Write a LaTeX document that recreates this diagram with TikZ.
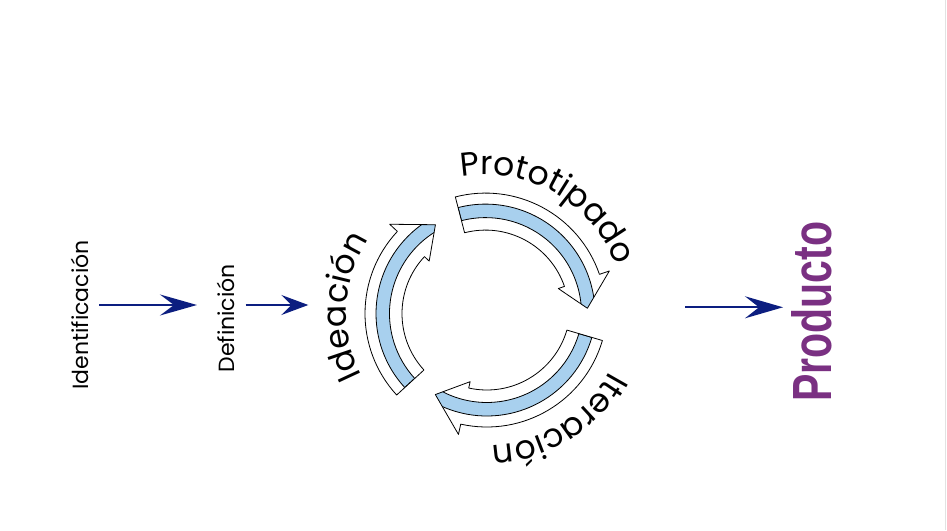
\documentclass[tikz,border=0pt]{standalone}
\usepackage{fontspec}
\setmainfont{Poppins}
\newfontfamily\arcfont{Poppins}
\newfontfamily\prodfont{Liberation Sans}
\usetikzlibrary{arrows.meta,decorations.text,calc}
\definecolor{navy}{RGB}{12,30,128}
\definecolor{bandblue}{RGB}{168,208,238}
\definecolor{prodpurple}{RGB}{122,48,130}
\definecolor{edgegray}{RGB}{226,226,226}
\tikzset{
  outline/.style={draw=black, line width=0.8pt, line join=round},
  band/.style={fill=bandblue, draw=black, line width=0.8pt},
  flow/.style={draw=navy, line width=2.2pt},
  lab/.style={font=\fontsize{22}{22}\selectfont, inner sep=0pt},
}
% #1 centre, #2 start angle, #3 head base angle, #4 tip angle
\newcommand{\cyclearrow}[4]{%
  \begin{scope}[shift={(#1)}]
    \fill[white] (#2:120.5) arc[start angle=#2, end angle=#3, radius=120.5]
      -- (#3:131) -- (#4:102) -- (#3:77) -- (#3:83.5)
      arc[start angle=#3, end angle=#2, radius=83.5] -- cycle;
    \begin{scope}
      \clip (#2:120.5) arc[start angle=#2, end angle=#3, radius=120.5]
        -- (#3:131) -- (#4:102) -- (#3:77) -- (#3:83.5)
        arc[start angle=#3, end angle=#2, radius=83.5] -- cycle;
      \path[band] (#2:109.5) arc[start angle=#2, end angle=#4-12, radius=109.5]
        -- (#4-12:96) arc[start angle=#4-12, end angle=#2, radius=96] -- cycle;
    \end{scope}
    \path[outline] (#2:120.5) arc[start angle=#2, end angle=#3, radius=120.5]
      -- (#3:131) -- (#4:102) -- (#3:77) -- (#3:83.5)
      arc[start angle=#3, end angle=#2, radius=83.5] -- cycle;
  \end{scope}}
% #1 centre, #2 middle angle, #3 text
\newcommand{\arctext}[3]{%
  \path[shift={(#1)}, decorate, decoration={text along path,
      text={|\arcfont\fontsize{33}{33}\selectfont|#3}, text align=center}]
    (#2+70:139) arc[start angle=#2+70, end angle=#2-70, radius=139];}
\begin{document}
\begin{tikzpicture}[x=1pt,y=1pt]
  \fill[white] (0,0) rectangle (947,530);
  \useasboundingbox (0,0) rectangle (947,530);
  \draw[edgegray, line width=1.6pt] (945.6,0) -- (945.6,530);

  \coordinate (O) at (485.5,216.4);
  \coordinate (O2) at (486.8,223.5);

  % cycle arrows
  \cyclearrow{O}{104.5}{19}{3}
  \cyclearrow{O}{222.5}{137}{119.4}
  \cyclearrow{O2}{343.6}{257.5}{239.7}

  % curved labels
  \arctext{O}{60}{Prototipado}
  \arctext{O}{177}{Ideación}
  \arctext{O2}{302}{Iteración}

  % straight labels
  \node[lab, rotate=90, anchor=base] (ident) at (88.3,215) {Identificación};
  \node[lab, rotate=90, anchor=base] (defin) at (234.5,211.7) {Definición};
  \node[rotate=90, inner sep=0pt, text=prodpurple] (prod) at (811.7,218.3)
    {\resizebox{180pt}{40pt}{\prodfont\bfseries Producto}};

  % flow arrows
  \coordinate (a1s) at (99,225);   \coordinate (a1e) at (197,225);
  \coordinate (a2s) at (245.7,225); \coordinate (a2e) at (308.3,225);
  \coordinate (a3s) at (685,222.7); \coordinate (a3e) at (783,222.7);
  \draw[flow, -{Stealth[length=37pt, width=21pt, inset=14pt]}] (a1s) -- (a1e);
  \draw[flow, -{Stealth[length=27pt, width=20pt, inset=10pt]}] (a2s) -- (a2e);
  \draw[flow, -{Stealth[length=38pt, width=22pt, inset=14pt]}] (a3s) -- (a3e);
\end{tikzpicture}
\end{document}
